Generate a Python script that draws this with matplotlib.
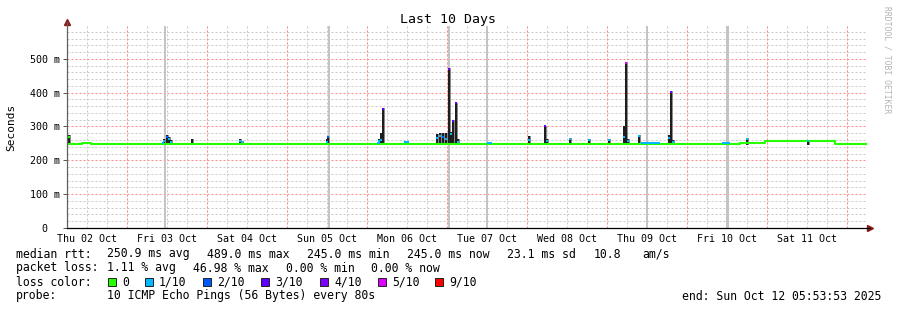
import matplotlib; matplotlib.use("Agg")
import matplotlib.pyplot as plt
from matplotlib.patches import Rectangle
from matplotlib.ticker import FixedLocator, FixedFormatter

plt.rcParams["font.family"] = ["DejaVu Sans Mono"]

W, H = 897, 310
# time axis: hours since Thu 02 Oct 05:53:53, 10 days
T_END = 240.0
day_noon = [6.1 + 24 * k for k in range(10)]
day_labels = ["Thu 02 Oct", "Fri 03 Oct", "Sat 04 Oct", "Sun 05 Oct", "Mon 06 Oct",
              "Tue 07 Oct", "Wed 08 Oct", "Thu 09 Oct", "Fri 10 Oct", "Sat 11 Oct"]
midnights = [18.1 + 24 * k for k in range(10)]
six_hours = [0.1 + 6 * k for k in range(40)]

# loss colours (SmokePing)
loss_names = ["0", "1/10", "2/10", "3/10", "4/10", "5/10", "9/10"]
loss_cols = ["#26ff00", "#00b8ff", "#0059ff", "#5e00ff", "#7e00ff", "#dd00ff", "#ff0000"]

# median baseline (step), ms
base_t = [0, 4.5, 7.2, 121.0, 131.0, 202.0, 209.5, 230.5, 240]
base_ms = [247, 251, 247, 249, 247, 252, 256, 247]

# median segments with some loss, at baseline level
seg_t0 = [28.5, 93.0, 101.1, 126.0, 172.2, 196.5]
seg_t1 = [29.1, 93.9, 102.6, 127.5, 177.9, 198.9]
seg_ms = [250, 250, 253, 252, 251, 250]
seg_lvl = [1, 1, 1, 1, 1, 1]

# spikes: time, smoke top, median, loss level
spk_t = [0.6, 29.1, 30.0, 30.6, 31.2, 37.5, 51.9, 52.5, 78.0, 78.3, 93.6, 94.2, 94.8,
         101.4, 111.0, 111.9, 112.8, 113.7, 114.6, 115.2, 115.8, 116.7, 117.3,
         138.6, 143.4, 144.0, 150.9, 156.6, 162.6, 167.1, 167.7, 168.3, 171.6,
         180.6, 181.2, 181.8, 204.0, 222.3]
spk_top = [276, 262, 276, 268, 260, 262, 262, 258, 262, 270, 262, 280, 355,
           256, 278, 280, 282, 282, 472, 285, 318, 370, 262,
           272, 302, 262, 266, 262, 262, 300, 490, 262, 276,
           275, 405, 260, 265, 258]
spk_med = [270, 258, 268, 262, 255, 248, 256, 253, 255, 268, 258, 260, 352,
           254, 266, 272, 270, 262, 470, 278, 315, 368, 255,
           260, 300, 258, 262, 260, 260, 270, 489, 258, 272,
           265, 403, 255, 262, 256]
spk_lvl = [0, 1, 2, 1, 1, 0, 1, 1, 1, 2, 1, 1, 3,
           1, 1, 1, 2, 1, 4, 1, 3, 3, 1,
           1, 3, 1, 1, 1, 1, 1, 5, 1, 1,
           1, 4, 1, 1, 1]

# unknown-data columns (light gray bars)
gap_t = [29.4, 78.6, 114.6, 126.0, 174.0, 198.0]
gap_w = [0.6, 0.6, 0.45, 0.6, 0.6, 0.9]

fig = plt.figure(figsize=(W / 100, H / 100), dpi=100)
ax = fig.add_axes([67 / W, (H - 228) / H, 800 / W, (228 - 26) / H])
ax.set_xlim(0, T_END)
ax.set_ylim(0, 597)
for s in ax.spines.values():
    s.set_visible(False)

# grid
gkw = dict(lw=0.72, ls=(0, (2, 2)))
for y in range(20, 597, 20):
    if y % 100:
        ax.axhline(y, color="#c8c8c8", zorder=0, **gkw)
for x in six_hours:
    ax.axvline(x, color="#c8c8c8", zorder=0, **gkw)
for y in range(100, 597, 100):
    ax.axhline(y, color="#ff8c8c", zorder=1, **gkw)
for x in midnights:
    ax.axvline(x, color="#ff8c8c", zorder=1, **gkw)

# gaps
ax.bar(gap_t, [597] * len(gap_t), width=gap_w, color="#c4c4c4", zorder=2)

# smoke
ax.bar(spk_t, [t - 245 for t in spk_top], bottom=245, width=0.9, color="#8a8a8a",
       zorder=3, lw=0)
ax.bar(spk_t, [t - 245 for t in spk_top], bottom=245, width=0.5, color="#1e1e1e",
       zorder=3, lw=0)

# median line
ax.step(base_t, base_ms + [base_ms[-1]], where="post", color=loss_cols[0], lw=1.5, zorder=4)
ax.hlines(seg_ms, seg_t0, seg_t1, colors=[loss_cols[i] for i in seg_lvl], lw=1.5, zorder=5)
ax.hlines(spk_med, [t - 0.25 for t in spk_t], [t + 0.25 for t in spk_t],
          colors=[loss_cols[i] for i in spk_lvl], lw=1.5, zorder=5)

# ticks
ax.yaxis.set_major_locator(FixedLocator([0, 100, 200, 300, 400, 500]))
ax.yaxis.set_major_formatter(FixedFormatter(["0  ", "100 m", "200 m", "300 m", "400 m", "500 m"]))
ax.tick_params(axis="y", length=3, width=0.7, color="#555555", pad=2, labelsize=7.2)
ax.xaxis.set_major_locator(FixedLocator(day_noon))
ax.xaxis.set_major_formatter(FixedFormatter(day_labels))
ax.tick_params(axis="x", length=0, pad=4, labelsize=7.2)

# axes lines with arrows
ax.plot([0, 0], [0, 1.02], transform=ax.transAxes, color="#606060", lw=0.9, clip_on=False, zorder=6)
ax.plot([0, 1.004], [0, 0], transform=ax.transAxes, color="#000000", lw=0.9, clip_on=False, zorder=6)
ax.plot([0], [1.02], transform=ax.transAxes, marker="^", ms=4, color="#8b1a1a", clip_on=False)
ax.plot([1.004], [0], transform=ax.transAxes, marker=">", ms=4, color="#8b1a1a", clip_on=False)

def ftext(x, y, s, **kw):
    fig.text(x / W, 1 - y / H, s, va="center", **kw)

ftext(448, 20, "Last 10 Days", ha="center", fontsize=9.5)
ftext(11, 127, "Seconds", ha="center", rotation=90, fontsize=8)
ftext(887, 60, "RRDTOOL / TOBI OETIKER", ha="center", rotation=270, fontsize=5.8, color="#b4b4b4")

fs = 8.3
row1 = [(16, "median rtt:"), (107, "250.9 ms avg"), (207, "489.0 ms max"), (307, "245.0 ms min"),
        (407, "245.0 ms now"), (507, "23.1 ms sd"), (594, "10.8"), (642, "am/s")]
row2 = [(16, "packet loss:"), (107, "1.11 % avg"), (193, "46.98 % max"), (286, "0.00 % min"),
        (371, "0.00 % now")]
for x, s in row1:
    ftext(x, 254, s, fontsize=fs)
for x, s in row2:
    ftext(x, 268, s, fontsize=fs)

ftext(16, 282, "loss color:", fontsize=fs)
sw_x = [108, 145, 203, 261, 320, 378, 435]
for x, c, n in zip(sw_x, loss_cols, loss_names):
    fig.patches.append(Rectangle((x / W, 1 - 286 / H), 8 / W, 8 / H, transform=fig.transFigure,
                                 facecolor=c, edgecolor="#222222", lw=0.7))
    ftext(x + 14, 282, n, fontsize=fs)

ftext(16, 296, "probe:", fontsize=fs)
ftext(107, 296, "10 ICMP Echo Pings (56 Bytes) every 80s", fontsize=fs)
ftext(881, 296, "end: Sun Oct 12 05:53:53 2025", ha="right", fontsize=fs)

fig.savefig("out.png", dpi=100)
